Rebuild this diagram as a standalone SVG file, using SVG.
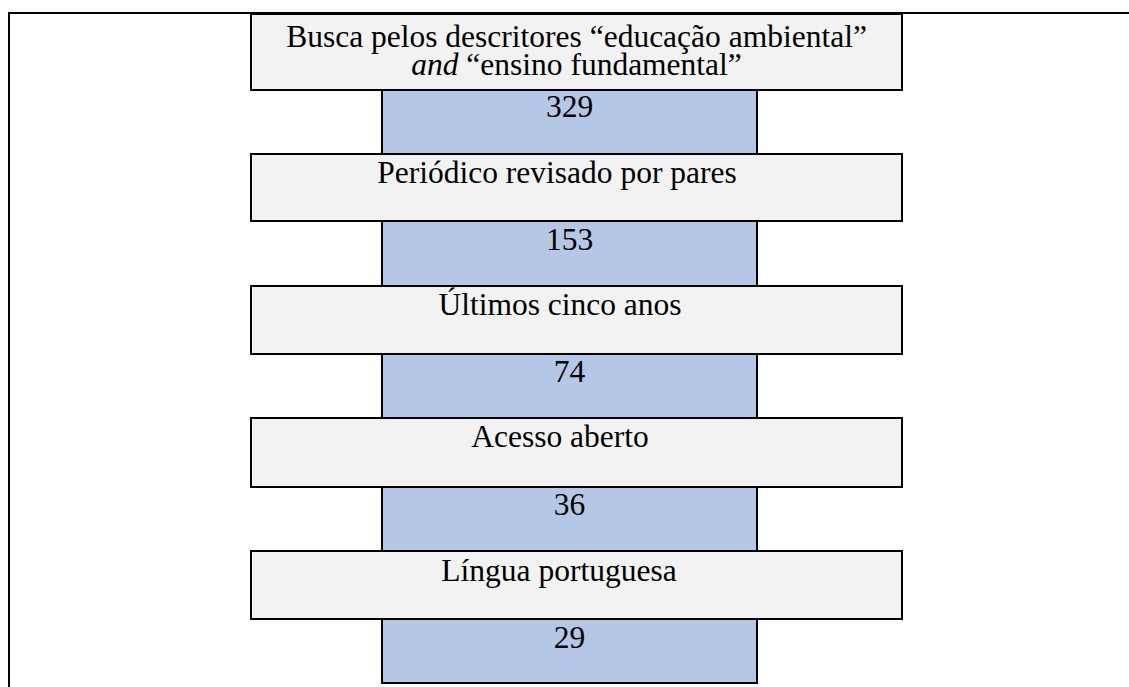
<svg xmlns="http://www.w3.org/2000/svg" width="1129" height="687" viewBox="0 0 1129 687">
  <style>
    .gray { fill: #F2F2F2; stroke: #000; stroke-width: 2; }
    .blue { fill: #B4C7E7; stroke: #000; stroke-width: 2; }
    .frame { fill: none; stroke: #000; stroke-width: 2; }
    .t { font-family: 'Liberation Serif', 'Times New Roman', serif; font-size: 31.5px; fill: #000; text-anchor: middle; }
  </style>
  <rect x="0" y="0" width="1129" height="687" fill="#fff"/>
  <g id="frame">
    <polyline class="frame" points="1129,13 9,13 9,687"/>
  </g>
  <g id="connectors"></g>
  <g id="count-329">
    <rect class="blue" x="382" y="90" width="375" height="64"/>
    <text class="t" x="569.5" y="117">329</text>
  </g>
  <g id="count-153">
    <rect class="blue" x="382" y="221" width="375" height="65"/>
    <text class="t" x="569.5" y="250">153</text>
  </g>
  <g id="count-74">
    <rect class="blue" x="382" y="354" width="375" height="64"/>
    <text class="t" x="569.5" y="382">74</text>
  </g>
  <g id="count-36">
    <rect class="blue" x="382" y="487" width="375" height="64"/>
    <text class="t" x="569.5" y="515">36</text>
  </g>
  <g id="count-29">
    <rect class="blue" x="382" y="619" width="375" height="64"/>
    <text class="t" x="569.5" y="648">29</text>
  </g>
  <g id="step-busca">
    <rect class="gray" x="251" y="14" width="651" height="76"/>
    <text class="t" x="576.5" y="47">Busca pelos descritores “educação ambiental”</text>
    <text class="t" x="576.5" y="75"><tspan font-style="italic">and</tspan> “ensino fundamental”</text>
  </g>
  <g id="step-periodico">
    <rect class="gray" x="251" y="154" width="651" height="67"/>
    <text class="t" x="557" y="183">Periódico revisado por pares</text>
  </g>
  <g id="step-ultimos">
    <rect class="gray" x="251" y="286" width="651" height="68"/>
    <text class="t" x="560" y="315">Últimos cinco anos</text>
  </g>
  <g id="step-acesso">
    <rect class="gray" x="251" y="418" width="651" height="69"/>
    <text class="t" x="560" y="447">Acesso aberto</text>
  </g>
  <g id="step-lingua">
    <rect class="gray" x="251" y="551" width="651" height="68"/>
    <text class="t" x="559" y="581">Língua portuguesa</text>
  </g>
</svg>
